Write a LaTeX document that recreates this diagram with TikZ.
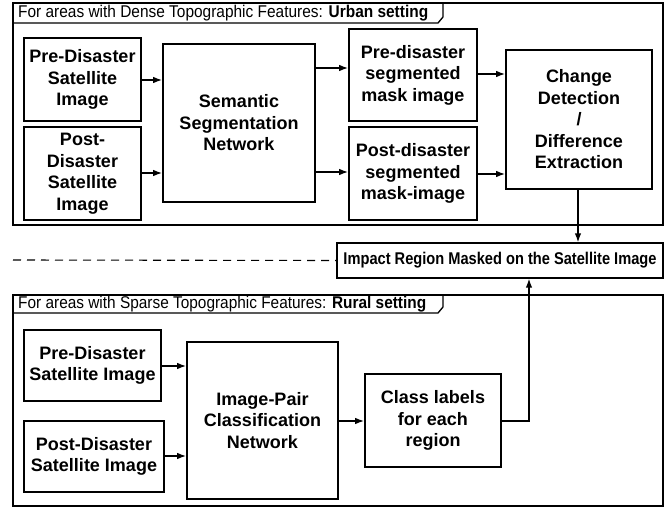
\documentclass[tikz,border=0pt]{standalone}
\usepackage{fontspec}
\setmainfont{Liberation Sans}
\usetikzlibrary{arrows.meta}
\tikzset{
  frame/.style={draw, line width=1.3pt},
  block/.style={draw, line width=1.6pt, align=center, inner sep=0pt,
    font=\fontsize{18}{21.5}\selectfont\bfseries},
  flow/.style={line width=1.4pt, -{Latex[length=9pt,width=6.5pt]}},
  tabtext/.style={anchor=west, inner sep=0pt, font=\fontsize{17}{20}\selectfont}
}
\begin{document}
\begin{tikzpicture}[x=1pt, y=-1pt]
\useasboundingbox (0,0) rectangle (665,508);

% urban frame with its title tab
\draw[frame] (13,3) rectangle (663,225);
\draw[frame] (13,23) -- (438,23) -- (443,17) -- (443,3);
\node[tabtext] (urbantitle) at (18,13) {\resizebox{410pt}{\height}{For areas with Dense Topographic Features: \textbf{Urban setting}}};

% rural frame with its title tab
\draw[frame] (13,295) rectangle (663,506);
\draw[frame] (13,313) -- (438,313) -- (443,307) -- (443,295);
\node[tabtext] (ruraltitle) at (18,304) {\resizebox{408pt}{\height}{For areas with Sparse Topographic Features: \textbf{Rural setting}}};

% urban pipeline
\node[block, minimum width=117pt, minimum height=83pt] (upre) at (82.5,79.5) {Pre-Disaster\\Satellite\\Image};
\node[block, minimum width=117pt, minimum height=93pt] (upost) at (82.5,173.5) {Post-\\Disaster\\Satellite\\Image};
\node[block, minimum width=152pt, minimum height=158pt] (seg) at (239,123) {Semantic\\Segmentation\\Network};
\node[block, minimum width=128pt, minimum height=92pt] (premask) at (413,75) {Pre-disaster\\segmented\\mask image};
\node[block, minimum width=128pt, minimum height=93pt] (postmask) at (413,173.5) {Post-disaster\\segmented\\mask-image};
\node[block, minimum width=146pt, minimum height=139pt] (change) at (579,119.5) {Change\\Detection\\/\\Difference\\Extraction};

\draw[flow] (upre.east |- 0,80) -- (seg.west |- 0,80);
\draw[flow] (upost.east |- 0,173) -- (seg.west |- 0,173);
\draw[flow] (seg.east |- 0,68) -- (premask.west |- 0,68);
\draw[flow] (seg.east |- 0,172) -- (postmask.west |- 0,172);
\draw[flow] (premask.east |- 0,74) -- (change.west |- 0,74);
\draw[flow] (postmask.east |- 0,174) -- (change.west |- 0,174);

% shared output
\node[draw, line width=1.3pt, minimum width=326pt, minimum height=35pt, inner sep=0pt,
  font=\fontsize{17}{20}\selectfont\bfseries] (impact) at (500,260.5)
  {\resizebox{313pt}{\height}{Impact Region Masked on the Satellite Image}};
\coordinate (dashstart) at (13,260);
\draw[line width=1.1pt, dash pattern=on 8pt off 6pt] (dashstart) -- (impact.west);
\draw[flow] (change.south -| 578,0) -- (impact.north -| 578,0);

% rural pipeline
\node[block, minimum width=137pt, minimum height=71pt] (rpre) at (92.5,365.5) {Pre-Disaster\\Satellite Image};
\node[block, minimum width=140pt, minimum height=71pt] (rpost) at (94,456.5) {Post-Disaster\\Satellite Image};
\node[block, minimum width=151pt, minimum height=157pt] (pair) at (262.5,420.5) {Image-Pair\\Classification\\Network};
\node[block, minimum width=136pt, minimum height=93pt] (labels) at (433,420.5) {Class labels\\for each\\region};

\draw[flow] (rpre.east |- 0,366) -- (pair.west |- 0,366);
\draw[flow] (rpost.east |- 0,456) -- (pair.west |- 0,456);
\draw[flow] (pair.east |- 0,421) -- (labels.west |- 0,421);
\draw[flow] (labels.east |- 0,421) -| (impact.south -| 529,0);
\end{tikzpicture}
\end{document}
